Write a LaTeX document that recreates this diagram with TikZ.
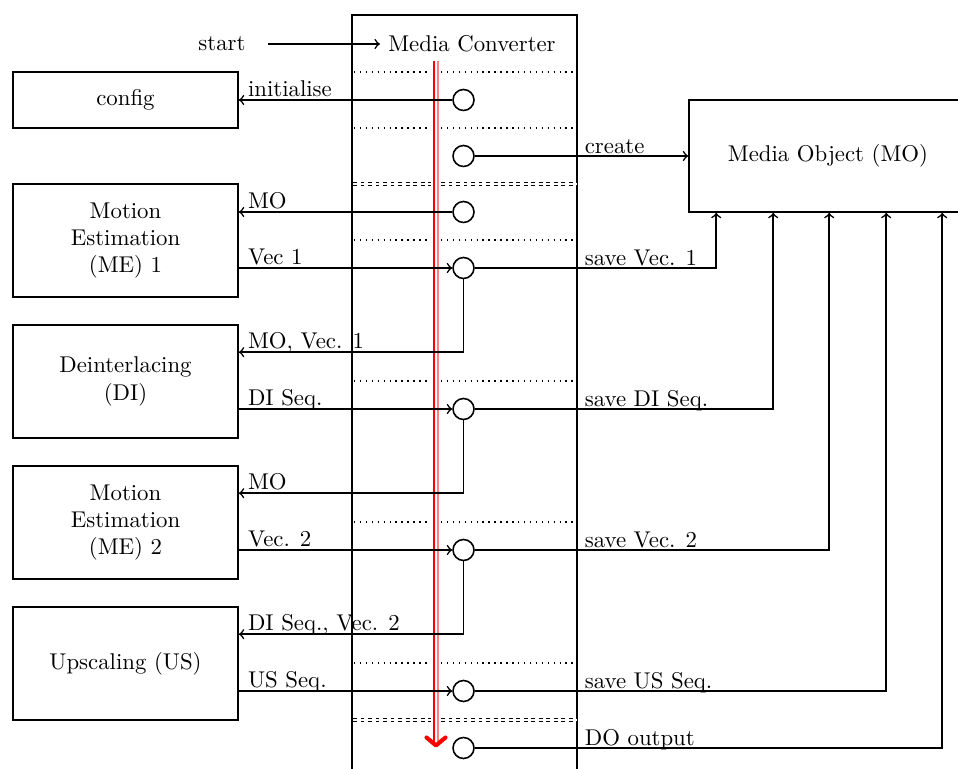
\documentclass[tikz,border=0pt]{standalone}
\usetikzlibrary{calc}
\begin{document}
\begin{tikzpicture}[x=0.4386pt,y=-0.4386pt, line width=0.7pt,
  box/.style={draw, minimum width=98.7pt, align=center, inner sep=0},
  proc/.style={draw, circle, minimum size=9.2pt, inner sep=0},
  lblL/.style={anchor=base west, inner sep=0, xshift=3.7pt, yshift=1.5pt},
  lblR/.style={anchor=base west, inner sep=0, xshift=3.1pt, yshift=1.2pt},
  sepline/.style={line width=0.6pt, dash pattern=on 0.6pt off 2pt},
  dsepline/.style={line width=0.5pt, double, double distance=0.7pt, dash pattern=on 1.7pt off 1.6pt},
  redline/.style={red, line width=0.5pt},
  ]
\clip (0,0) rectangle (958,769);
% Media Converter lane
\coordinate (mcL) at (352,15);
\coordinate (mcR) at (577,15);
\draw (352,769) -- (mcL) -- (mcR) -- (577,769);
\node (mct) at (472,44) {Media Converter};
\node (start) at (222,44) {start};
\draw[->] ([xshift=6pt]start.east) -- (mct.west);

% separators
\foreach \y in {72,128,240,381,522,663} {
  \draw[sepline] (354,\y) -- (431,\y);
  \draw[sepline] (441,\y) -- (577,\y);
}
\foreach \y in {184,720} {
  \draw[dsepline] (353,\y) -- (431,\y);
  \draw[dsepline] (441,\y) -- (577,\y);
}

% red flow line
\draw[redline] (434,61) -- (434,743);
\draw[redline, red!50] (438,61) -- (438,743);
\draw[red, line width=1.8pt, line cap=round, line join=round] (426.5,737.5) -- (436,745.5) -- (445.5,737.5);

% left boxes
\node[box, minimum height=24.56pt] (cfg) at (125.5,100) {config};
\node[box, minimum height=49.56pt] (me1) at (125.5,240.5) {Motion\\Estimation\\(ME) 1};
\node[box, minimum height=49.56pt] (di) at (125.5,381.5) {Deinterlacing\\(DI)};
\node[box, minimum height=49.56pt] (me2) at (125.5,522.5) {Motion\\Estimation\\(ME) 2};
\node[box, minimum height=49.56pt] (us) at (125.5,663.5) {Upscaling (US)};

% media object
\node[draw, minimum width=121.9pt, minimum height=49.1pt, inner sep=0] (mo) at (828,156) {Media Object (MO)};

% process circles
\node[proc] (c1) at (463.5,100) {};
\node[proc] (c2) at (463.5,156) {};
\node[proc] (c3) at (463.5,212) {};
\node[proc] (c4) at (463.5,268) {};
\node[proc] (c5) at (463.5,409) {};
\node[proc] (c6) at (463.5,550) {};
\node[proc] (c7) at (463.5,691) {};
\node[proc] (c8) at (463.5,748) {};

% coordinates
\coordinate (dimo) at ($(di.north east)+(0,28)$);
\coordinate (me2mo) at ($(me2.north east)+(0,28)$);
\coordinate (usin) at ($(us.north east)+(0,28)$);
\coordinate (mo1) at ($(mo.south west)+(28,0)$);
\coordinate (mo2) at ($(mo.south west)+(85,0)$);
\coordinate (mo3) at ($(mo.south west)+(141,0)$);
\coordinate (mo4) at ($(mo.south west)+(198,0)$);
\coordinate (mo5) at ($(mo.south west)+(254,0)$);

% connectors
\draw[->] (c1.west) -- (c1 -| cfg.east);
\draw[->] (c2.east) -- (c2 -| mo.west);
\draw[->] (c3.west) -- (c3 -| me1.east);
\draw[->] (c4 -| me1.east) -- (c4.west);
\draw[->] (c4.east) -| (mo1);
\draw[->] (c4.south) |- (dimo);
\draw[->] (c5 -| di.east) -- (c5.west);
\draw[->] (c5.east) -| (mo2);
\draw[->] (c5.south) |- (me2mo);
\draw[->] (c6 -| me2.east) -- (c6.west);
\draw[->] (c6.east) -| (mo3);
\draw[->] (c6.south) |- (usin);
\draw[->] (c7 -| us.east) -- (c7.west);
\draw[->] (c7.east) -| (mo4);
\draw[->] (c8.east) -| (mo5);

% labels
\node[lblL] (t1) at (c1 -| cfg.east) {initialise};
\node[lblL] (t2) at (c3 -| me1.east) {MO};
\node[lblL] (t3) at (c4 -| me1.east) {Vec 1};
\node[lblL] (t4) at (dimo) {MO, Vec. 1};
\node[lblL] (t5) at (c5 -| di.east) {DI Seq.};
\node[lblL] (t6) at (me2mo) {MO};
\node[lblL] (t7) at (c6 -| me2.east) {Vec. 2};
\node[lblL] (t8) at (usin) {DI Seq., Vec. 2};
\node[lblL] (t9) at (c7 -| us.east) {US Seq.};
\node[lblR] (r1) at (c2 -| mcR) {create};
\node[lblR] (r2) at (c4 -| mcR) {save Vec. 1};
\node[lblR] (r3) at (c5 -| mcR) {save DI Seq.};
\node[lblR] (r4) at (c6 -| mcR) {save Vec. 2};
\node[lblR] (r5) at (c7 -| mcR) {save US Seq.};
\node[lblR] (r6) at (c8 -| mcR) {DO output};
\end{tikzpicture}
\end{document}
